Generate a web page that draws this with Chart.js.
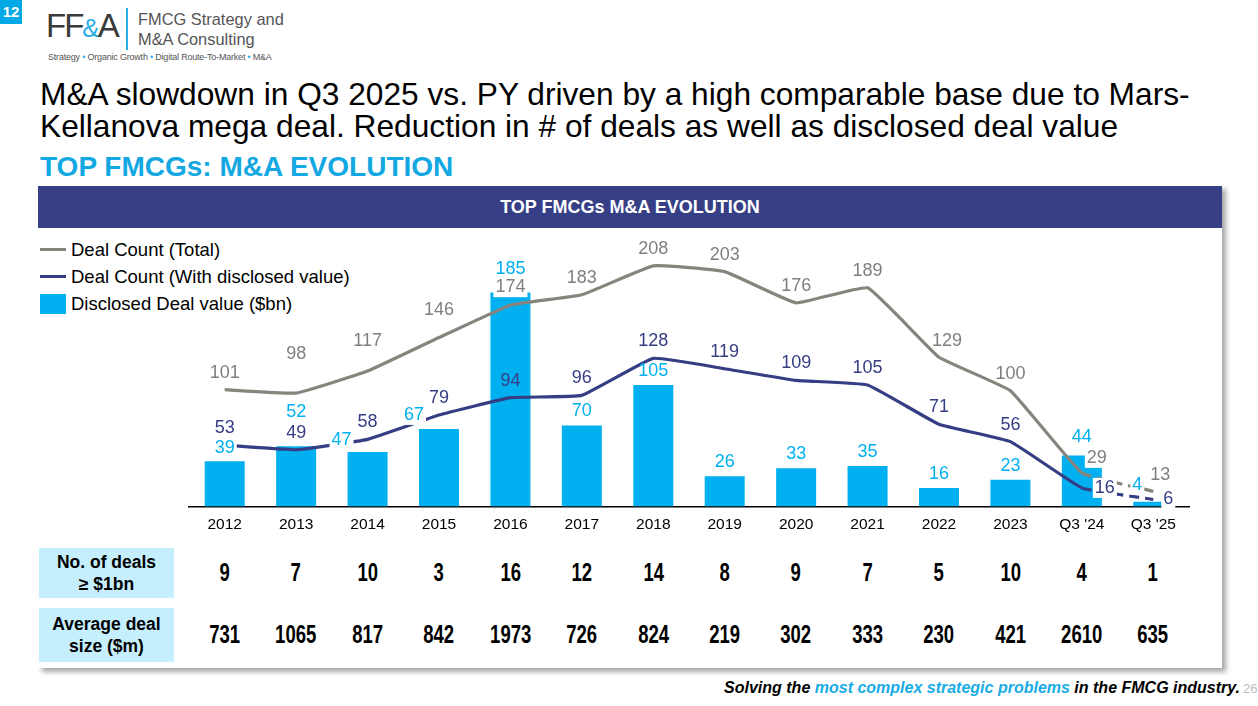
<!DOCTYPE html>
<html>
<head>
<meta charset="utf-8">
<script src="https://cdn.jsdelivr.net/npm/chart.js@4.4.1/dist/chart.umd.min.js"></script>
<style>
  html, body { margin: 0; padding: 0; background: #fff; }
  body { width: 1258px; height: 706px; position: relative; overflow: hidden;
         font-family: "Liberation Sans", Arial, sans-serif; }
  .abs { position: absolute; }
  #pg { left: 0; top: 0; width: 22px; height: 24px; background: #00a9e6; color: #fff;
        font: bold 15px "Liberation Sans"; text-align: center; line-height: 24px; }
  #logo { left: 46px; top: 8px; font-size: 33px; color: #3a3a3a; letter-spacing: -2px; line-height: 36px; }
  #logo span { color: #2aaee6; font-size: 26px; }
  #logoLine { left: 126px; top: 8px; width: 2px; height: 42px; background: #2aaee6; }
  #logoTxt { left: 138px; top: 9px; font-size: 16.4px; color: #555; line-height: 20px; }
  #logoSub { left: 48px; top: 52px; font-size: 9px; color: #555; letter-spacing: -0.2px; }
  #logoSub b { color: #2aaee6; font-weight: normal; }
  #title { left: 40px; top: 78px; font-size: 31.7px; color: #000; line-height: 32px; }
  #sub { left: 40px; top: 151px; font-size: 28px; font-weight: bold; color: #13a8e2; }
  #panel { left: 38px; top: 185px; width: 1184px; height: 483px; background: #fff;
           box-shadow: 4px 4px 5px rgba(0,0,0,0.35); }
  #hdr { left: 38px; top: 186px; width: 1184px; height: 42px; background: #363f85; color: #fff;
         font-size: 18px; font-weight: bold; text-align: center; line-height: 42px; }
  #legend { left: 40px; top: 236px; font-size: 18.5px; color: #000; }
  .li { height: 27px; display: flex; align-items: center; }
  .sw { width: 26px; margin-right: 5px; }
  #wrap { left: 38px; top: 228px; width: 1184px; height: 307px; }
  .lab { position: absolute; left: 39px; width: 135px; background: #c6effd; font-weight: bold;
         font-size: 17.5px; text-align: center; display: flex; align-items: center; justify-content: center; line-height: 22px; }
  .row { position: absolute; left: 189px; width: 1000px; display: flex;
         font-weight: bold; font-size: 25px; }
  .row div { flex: 1; text-align: center; transform: scaleX(0.74); }
  #foot { right: 18px; top: 679px; font-size: 16px; font-weight: bold; font-style: italic; }
  #foot b { color: #19ace4; }
  #pn { left: 1243px; top: 681px; font-size: 13px; color: #bbb; }
</style>
</head>
<body>
<div id="pg" class="abs">12</div>
<div id="logo" class="abs">FF<span>&amp;</span>A</div>
<div id="logoLine" class="abs"></div>
<div id="logoTxt" class="abs">FMCG Strategy and<br>M&amp;A Consulting</div>
<div id="logoSub" class="abs">Strategy <b>•</b> Organic Growth <b>•</b> Digital Route-To-Market <b>•</b> M&amp;A</div>
<div id="title" class="abs">M&amp;A slowdown in Q3 2025 vs. PY driven by a high comparable base due to Mars-<br>Kellanova mega deal. Reduction in # of deals as well as disclosed deal value</div>
<div id="sub" class="abs">TOP FMCGs: M&amp;A EVOLUTION</div>
<div id="panel" class="abs"></div>
<div id="hdr" class="abs">TOP FMCGs M&amp;A EVOLUTION</div>
<div id="legend" class="abs">
  <div class="li"><div class="sw" style="height:3px;background:#86847c"></div>Deal Count (Total)</div>
  <div class="li"><div class="sw" style="height:3px;background:#353d84"></div>Deal Count (With disclosed value)</div>
  <div class="li"><div class="sw" style="height:20px;background:#00b0f0"></div>Disclosed Deal value ($bn)</div>
</div>
<div id="wrap" class="abs"><canvas id="chart"></canvas></div>
<div class="lab" style="top:548px;height:50px">No. of deals<br>≥ $1bn</div>
<div class="lab" style="top:608px;height:54px">Average deal<br>size ($m)</div>
<div class="row" id="rowBig" style="top:558px"></div>
<div class="row" id="rowAvg" style="top:620px"></div>
<div id="foot" class="abs">Solving the <b>most complex strategic problems</b> in the FMCG industry.</div>
<div id="pn" class="abs">26</div>

<script>
const years = ['2012', '2013', '2014', '2015', '2016', '2017', '2018', '2019', '2020', '2021', '2022', '2023', "Q3 '24", "Q3 '25"]
const dealTotal = [101, 98, 117, 146, 174, 183, 208, 203, 176, 189, 129, 100, 29, 13]
const dealDisclosed = [53, 49, 58, 79, 94, 96, 128, 119, 109, 105, 71, 56, 16, 6]
const dealValue = [39, 52, 47, 67, 185, 70, 105, 26, 33, 35, 16, 23, 44, 4]
const bigDeals = [9, 7, 10, 3, 16, 12, 14, 8, 9, 7, 5, 10, 4, 1]
const avgSize = [731, 1065, 817, 842, 1973, 726, 824, 219, 302, 333, 230, 421, 2610, 635]

// table rows under the chart
document.getElementById('rowBig').innerHTML = bigDeals.map(v => `<div>${v}</div>`).join('')
document.getElementById('rowAvg').innerHTML = avgSize.map(v => `<div>${v}</div>`).join('')

const GREY = '#86847c', NAVY = '#353d84', CYAN = '#00b0f0'
const last = years.length - 1

// label placement tweaks per dataset: index -> [dx, dy, whiteBox]
const labelCfg = [
  { color: '#7f7f7f', dy: -17, tweak: { 1: [0, -39], 2: [0, -30], 3: [0, -28], 4: [0, -18, true], 10: [8, -16], 12: [15, -15, true], 13: [7, -16] } },
  { color: NAVY, dy: -17, tweak: { 12: [23, 0, true], 13: [15, 0, true] } },
  { color: CYAN, dy: -14, tweak: { 0: [0, -13, true], 1: [0, -34], 2: [-26, -12, true], 3: [-25, -14, true], 4: [0, -23], 12: [0, -18], 13: [-16, -17, true] } },
]

const valueLabels = {
  id: 'valueLabels',
  afterDatasetsDraw(chart) {
    const c = chart.ctx
    c.save()
    c.font = '18px "Liberation Sans", Arial'
    c.textAlign = 'center'
    c.textBaseline = 'middle'
    chart.data.datasets.forEach((ds, di) => {
      const cfg = labelCfg[di]
      chart.getDatasetMeta(di).data.forEach((el, i) => {
        const t = cfg.tweak[i] || [0, cfg.dy]
        const x = el.x + t[0], y = el.y + t[1]
        const txt = String(ds.data[i])
        if (t[2]) {
          const w = c.measureText(txt).width + 4
          c.fillStyle = '#fff'
          c.fillRect(x - w / 2, y - 10, w, 20)
        }
        c.fillStyle = cfg.color
        c.fillText(txt, x, y)
      })
    })
    c.restore()
  },
}

const dashLast = ctx => ctx.p1DataIndex === last ? [10, 6] : undefined

new Chart(document.getElementById('chart'), {
  type: 'bar',
  data: {
    labels: years,
    datasets: [
      {
        type: 'line', label: 'Deal Count (Total)', data: dealTotal,
        borderColor: GREY, borderWidth: 3.2, pointRadius: 0, tension: 0.1,
        segment: { borderDash: dashLast }, order: 0,
      },
      {
        type: 'line', label: 'Deal Count (With disclosed value)', data: dealDisclosed,
        borderColor: NAVY, borderWidth: 3.2, pointRadius: 0, tension: 0.1,
        segment: { borderDash: dashLast }, order: 1,
      },
      {
        label: 'Disclosed Deal value ($bn)', data: dealValue,
        backgroundColor: CYAN, categoryPercentage: 0.8, barPercentage: 0.7, order: 2,
      },
    ],
  },
  options: {
    responsive: true,
    maintainAspectRatio: false,
    animation: false,
    layout: { padding: { left: 151, right: 33, top: 24, bottom: 0 } },
    plugins: { legend: { display: false }, tooltip: { enabled: false } },
    scales: {
      x: {
        grid: { display: false },
        border: { color: '#000', width: 1.5 },
        ticks: { color: '#000', font: { size: 15.5, family: '"Liberation Sans", Arial' }, padding: 1 },
      },
      y: { display: false, min: 0, max: 220 },
    },
  },
  plugins: [valueLabels],
})
</script>
</body>
</html>
